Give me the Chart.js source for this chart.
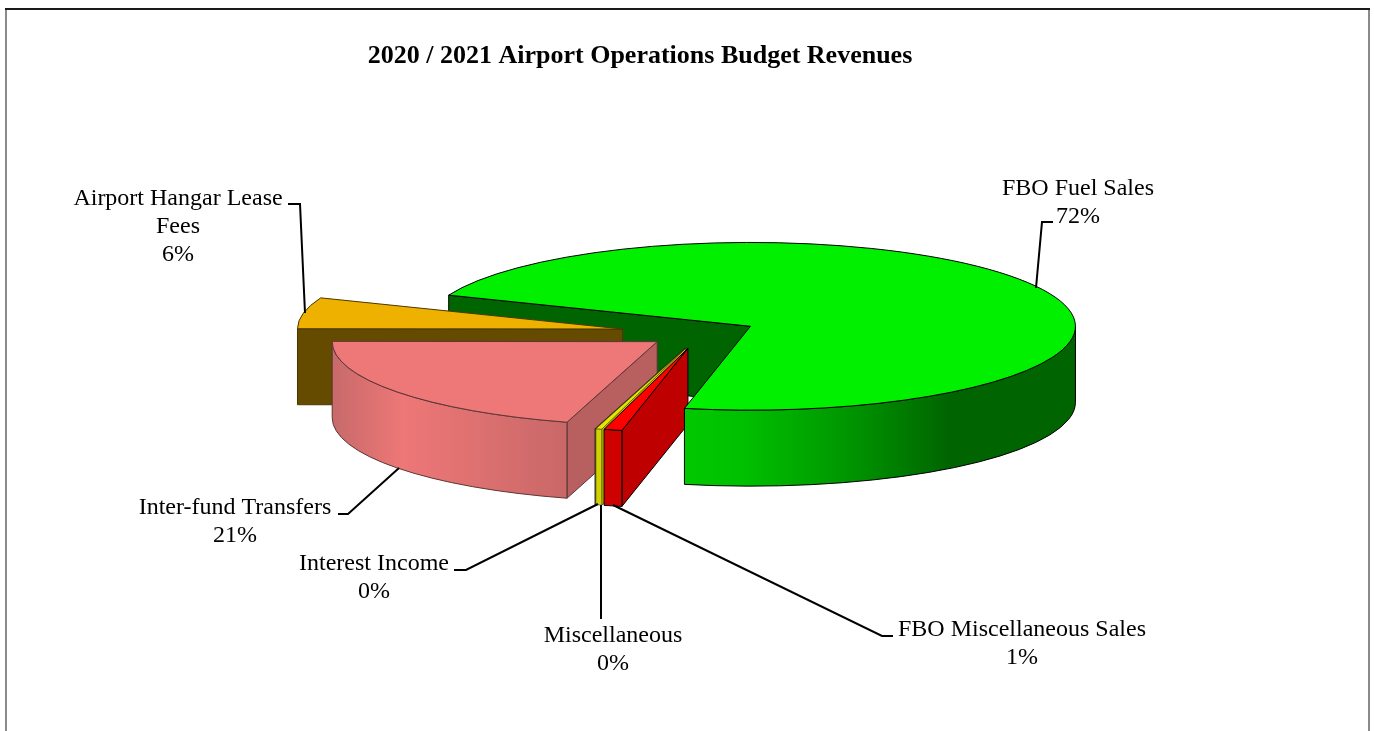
<!DOCTYPE html>
<html>
<head>
<meta charset="utf-8">
<style>
  html, body { margin: 0; padding: 0; background: #fff; }
  canvas { display: block; }
</style>
<script src="https://cdn.jsdelivr.net/npm/chart.js@4"></script>
</head>
<body>
<canvas id="budgetPie" width="1374" height="731"></canvas>
<script>
const chartTitle = '2020 / 2021 Airport Operations Budget Revenues';
const categories = ['FBO Fuel Sales', 'FBO Miscellaneous Sales', 'Miscellaneous', 'Interest Income', 'Inter-fund Transfers', 'Airport Hangar Lease Fees'];
const revenueShare = [72.2, 0.9, 0.3, 0.02, 20.58, 6.0];

// colours of the top faces, the straight cut faces and the rim
const topColors = ['#00f000', '#ff0000', '#e6e600', '#808000', '#ee7777', '#eeb100'];
const cutColors = ['#006400', '#bf0000', '#c8c800', '#808000', '#b86060', '#644b00'];
const rimStops = [
  [[0, '#00c800'], [0.15, '#00c000'], [0.45, '#009000'], [0.68, '#006400'], [1, '#006400']],
  [[0, '#cf0000'], [1, '#cf0000']],
  [[0, '#d2d200'], [1, '#d2d200']],
  [[0, '#808000'], [1, '#808000']],
  [[0, '#c76a6a'], [0.3, '#ee7777'], [1, '#c96868']],
  [[0, '#644b00'], [1, '#644b00']]
];
const edgeColors = ['#000', '#000', '#222', '#222', '#5c3636', '#4a3800'];

// how far each wedge is pulled out of the pie, before squashing
const explode = [55, 61, 61, 61, 56, 81];
const squash = 0.258;
const depth = 76;

// text blocks and their leader lines
const labelLines = [
  ['FBO Fuel Sales'],
  ['FBO Miscellaneous Sales'],
  ['Miscellaneous'],
  ['Interest Income'],
  ['Inter-fund Transfers'],
  ['Airport Hangar Lease', 'Fees']
];
const labelAt = [[1078, 189], [1022, 630], [613, 636], [374, 564], [235, 508], [178, 199]];
const leaders = [
  [[1053, 222], [1042, 222], [1036, 288]],
  [[893, 636], [882, 636], [613, 505]],
  [[601, 619], [601, 505]],
  [[454, 570], [466, 570], [598, 504]],
  [[338, 514], [348, 514], [399, 468]],
  [[288, 204], [300, 204], [305, 313]]
];
const font = '"Liberation Serif", serif';
const lineHeight = 28;

function sliceCentre(arc, i) {
  const mid = (arc.startAngle + arc.endAngle) / 2;
  return {
    x: arc.x + Math.cos(mid) * explode[i],
    y: arc.y + Math.sin(mid) * explode[i] * squash
  };
}

function topPath(ctx, c, r, a0, a1) {
  ctx.beginPath();
  ctx.moveTo(c.x, c.y);
  ctx.ellipse(c.x, c.y, r, r * squash, 0, a0, a1);
  ctx.closePath();
}

function rimPath(ctx, c, r, a0, a1) {
  ctx.beginPath();
  ctx.ellipse(c.x, c.y, r, r * squash, 0, a0, a1);
  ctx.ellipse(c.x, c.y + depth, r, r * squash, 0, a1, a0, true);
  ctx.closePath();
}

function cutPath(ctx, c, r, a) {
  const px = c.x + Math.cos(a) * r;
  const py = c.y + Math.sin(a) * r * squash;
  ctx.beginPath();
  ctx.moveTo(c.x, c.y);
  ctx.lineTo(px, py);
  ctx.lineTo(px, py + depth);
  ctx.lineTo(c.x, c.y + depth);
  ctx.closePath();
}

function paint(ctx, fill, edge, width) {
  ctx.fillStyle = fill;
  ctx.fill();
  ctx.strokeStyle = edge;
  ctx.lineWidth = width;
  ctx.stroke();
}

// the part of a wedge's outer edge that faces the viewer
function visibleRim(a0, a1) {
  const TAU = Math.PI * 2;
  let s = a0 % TAU;
  if (s < 0) s += TAU;
  const e = s + (a1 - a0);
  if (e > TAU) return [TAU, Math.min(e, TAU + Math.PI)];
  if (s < Math.PI) return [s, Math.min(e, Math.PI)];
  return null;
}

// the thinnest wedges would turn black under a full width outline
function edgeWidth(arc) {
  return arc.endAngle - arc.startAngle < 0.05 ? 0.5 : 1;
}

function drawCuts(ctx, arc, i) {
  const c = sliceCentre(arc, i);
  if (Math.cos(arc.startAngle) < 0.001) {
    cutPath(ctx, c, arc.outerRadius, arc.startAngle);
    paint(ctx, cutColors[i], edgeColors[i], edgeWidth(arc));
  }
  if (Math.cos(arc.endAngle) > 0) {
    cutPath(ctx, c, arc.outerRadius, arc.endAngle);
    paint(ctx, cutColors[i], edgeColors[i], edgeWidth(arc));
  }
}

function drawFront(ctx, arc, i) {
  const c = sliceCentre(arc, i);
  const r = arc.outerRadius;
  const rim = visibleRim(arc.startAngle, arc.endAngle);
  if (rim) {
    const xa = c.x + Math.cos(rim[1]) * r;
    const xb = c.x + Math.cos(rim[0]) * r;
    const grad = ctx.createLinearGradient(xa, 0, xb, 0);
    rimStops[i].forEach(s => grad.addColorStop(s[0], s[1]));
    rimPath(ctx, c, r, rim[0], rim[1]);
    paint(ctx, grad, edgeColors[i], edgeWidth(arc));
  }
  topPath(ctx, c, r, arc.startAngle, arc.endAngle);
  paint(ctx, arc.options.backgroundColor, edgeColors[i], edgeWidth(arc));
}

const pie3d = {
  id: 'pie3d',
  // wedges are painted here, squashed and extruded, from the arc elements
  beforeDatasetsDraw(chart) {
    const arcs = chart.getDatasetMeta(0).data;
    const ctx = chart.ctx;
    ctx.save();
    // the big wedge's cut face sits behind everything, its rim in front of the small wedges
    drawCuts(ctx, arcs[0], 0);
    [5, 4, 3, 2, 1].forEach(i => {
      drawCuts(ctx, arcs[i], i);
      drawFront(ctx, arcs[i], i);
    });
    drawFront(ctx, arcs[0], 0);
    ctx.restore();
    return false;
  },
  afterDraw(chart) {
    const ctx = chart.ctx;
    ctx.save();

    // frame
    ctx.fillStyle = '#8a8a8a';
    ctx.fillRect(5, 9, 2, 722);
    ctx.fillRect(1368, 9, 2, 722);
    ctx.fillStyle = '#1a1a1a';
    ctx.fillRect(5, 8, 1365, 2);

    ctx.fillStyle = '#000';
    ctx.textAlign = 'center';
    ctx.textBaseline = 'middle';
    ctx.font = 'bold 26px ' + font;
    ctx.fillText(chartTitle, 640, 56);

    ctx.font = '24px ' + font;
    categories.forEach((name, i) => {
      const lines = labelLines[i].concat(Math.round(revenueShare[i]) + '%');
      lines.forEach((t, k) => ctx.fillText(t, labelAt[i][0], labelAt[i][1] + k * lineHeight));
    });

    ctx.strokeStyle = '#000';
    ctx.lineWidth = 2;
    leaders.forEach(pts => {
      ctx.beginPath();
      pts.forEach((p, k) => (k ? ctx.lineTo(p[0], p[1]) : ctx.moveTo(p[0], p[1])));
      ctx.stroke();
    });
    ctx.restore();
  }
};

new Chart(document.getElementById('budgetPie'), {
  type: 'pie',
  data: {
    labels: categories,
    datasets: [{
      data: revenueShare,
      backgroundColor: topColors,
      borderWidth: 0
    }]
  },
  plugins: [pie3d],
  options: {
    responsive: false,
    animation: false,
    rotation: 291.8,
    layout: { padding: { left: 30, right: 0, top: 8, bottom: 73 } },
    plugins: {
      legend: { display: false },
      tooltip: { enabled: false }
    }
  }
});
</script>
</body>
</html>
